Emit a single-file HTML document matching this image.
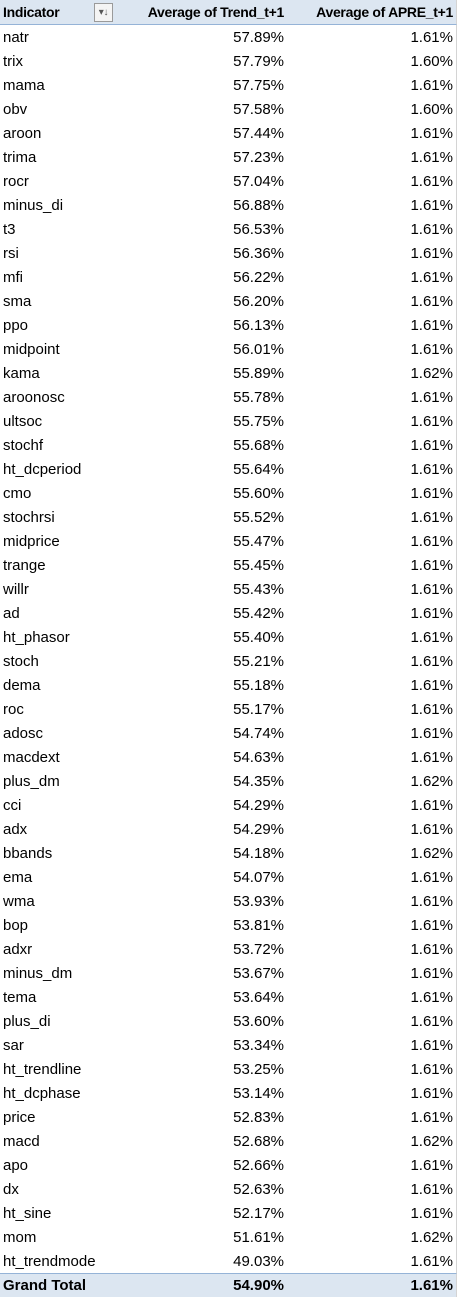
<!DOCTYPE html>
<html><head><meta charset="utf-8">
<style>
body{margin:0;width:460px;height:1297px;overflow:hidden;background:#fff;font-family:"Liberation Sans",sans-serif;font-size:15px;color:#000;position:relative}
.r{position:absolute;left:0;width:456px;height:24px;line-height:25px;border-right:1px solid #d4d4d4}
.r div{position:absolute;top:0;white-space:nowrap}
.c1{left:3px}
.c2{right:172px;text-align:right}
.c3{right:3px;text-align:right}
.h{top:0;height:24px;line-height:24px;background:#dce6f1;font-weight:bold;border-bottom:1px solid #95b3d7;font-size:14px;letter-spacing:-0.3px}
.t{background:#dce6f1;font-weight:bold;border-top:1px solid #95b3d7;height:23px;line-height:24px}
.dd{position:absolute;left:94px;top:3px;width:17px;height:17px;border:1px solid #9a9a9a;background:#f4f4f4;font-size:10px;line-height:17px;text-align:center;color:#555;font-weight:normal}
</style></head><body>
<div class="r h">
<div class="c1">Indicator</div>
<span class="dd">▾↓</span>
<div class="c2">Average of Trend_t+1</div>
<div class="c3">Average of APRE_t+1</div>
</div>
<div id="tb"></div>
<script>
const indicators=["natr","trix","mama","obv","aroon","trima","rocr","minus_di","t3","rsi","mfi","sma","ppo","midpoint","kama","aroonosc","ultsoc","stochf","ht_dcperiod","cmo","stochrsi","midprice","trange","willr","ad","ht_phasor","stoch","dema","roc","adosc","macdext","plus_dm","cci","adx","bbands","ema","wma","bop","adxr","minus_dm","tema","plus_di","sar","ht_trendline","ht_dcphase","price","macd","apo","dx","ht_sine","mom","ht_trendmode"];
const trend=[57.89,57.79,57.75,57.58,57.44,57.23,57.04,56.88,56.53,56.36,56.22,56.20,56.13,56.01,55.89,55.78,55.75,55.68,55.64,55.60,55.52,55.47,55.45,55.43,55.42,55.40,55.21,55.18,55.17,54.74,54.63,54.35,54.29,54.29,54.18,54.07,53.93,53.81,53.72,53.67,53.64,53.60,53.34,53.25,53.14,52.83,52.68,52.66,52.63,52.17,51.61,49.03];
const apre=[1.61,1.60,1.61,1.60,1.61,1.61,1.61,1.61,1.61,1.61,1.61,1.61,1.61,1.61,1.62,1.61,1.61,1.61,1.61,1.61,1.61,1.61,1.61,1.61,1.61,1.61,1.61,1.61,1.61,1.61,1.61,1.62,1.61,1.61,1.62,1.61,1.61,1.61,1.61,1.61,1.61,1.61,1.61,1.61,1.61,1.61,1.62,1.61,1.61,1.61,1.62,1.61];
const totals=["Grand Total",54.90,1.61];
const tb=document.getElementById('tb');
function row(a,b,c,i,cls){
  const tr=document.createElement('div');
  tr.className='r'+(cls?' '+cls:'');
  tr.style.top=(25+i*24)+'px';
  
  
  const vals=[a,b.toFixed(2)+'%',c.toFixed(2)+'%'];
  const names=['indicator-name','trend-value','apre-value'];
  vals.forEach((v,k)=>{const td=document.createElement('div');
    td.className='c'+(k+1);
    td.textContent=v;
    
    
    tr.appendChild(td);});
  tb.appendChild(tr);
}
indicators.forEach((n,i)=>row(n,trend[i],apre[i],i));
row(totals[0],totals[1],totals[2],indicators.length,'t');
</script>
</body></html>
